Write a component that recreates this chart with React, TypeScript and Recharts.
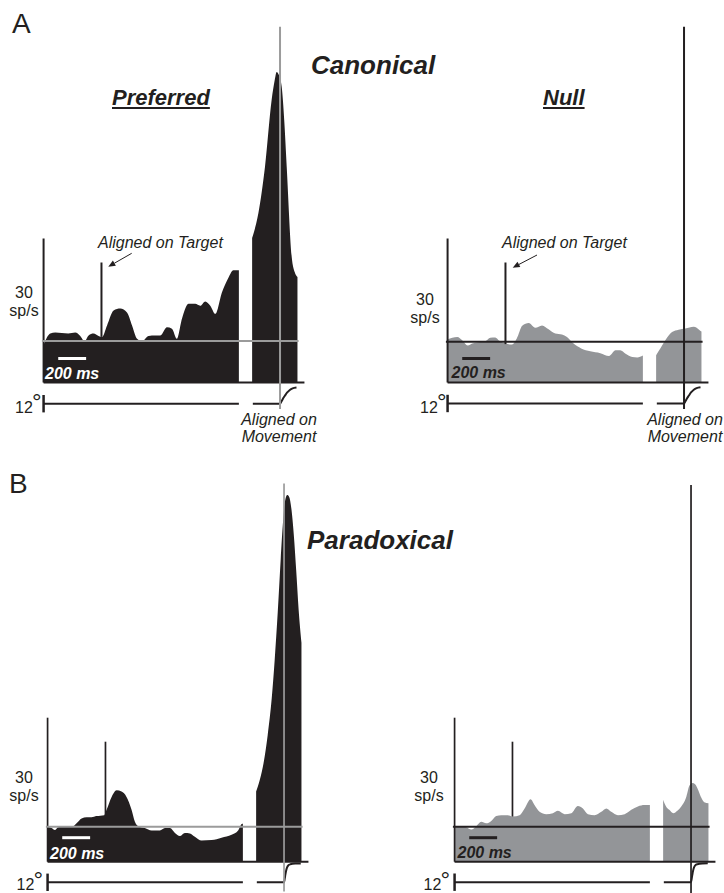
import React from "react";
import { ComposedChart, Area, Line, XAxis, YAxis, ReferenceLine } from "recharts";

// firing rate traces: [time (ms), rate (sp/s)]
// target-aligned: time from target onset; movement-aligned: time from movement onset
const aPrefTarget: [number, number][] = [
  [-415, 7.8], [-367, 10.2], [-331, 10.4], [-238, 10.2], [-188, 10.4], [-152, 9.7],
  [-121, 8.6], [-92, 9.8], [-57, 10.2], [-21, 9.7], [4, 9.5], [40, 11.9], [87, 15.0],
  [135, 15.4], [183, 14.6], [219, 11.9], [255, 9.1], [290, 8.6], [338, 9.7], [386, 9.8],
  [422, 9.8], [470, 11.5], [505, 11.2], [541, 9.1], [577, 13.3], [625, 16.4], [672, 16.4],
  [708, 16.0], [744, 16.9], [780, 16.0], [816, 14.3], [864, 18.8], [911, 21.9], [945, 23.4],
  [985, 23.4],
];
const aPrefMove: [number, number][] = [
  [-200, 30.1], [-155, 35.3], [-108, 44.9], [-60, 58.9], [-38, 63.0], [-24, 64.7],
  [-9, 64.1], [12, 61.6], [30, 54.7], [48, 44.9], [84, 26.1], [105, 23.0], [125, 22.0],
];
const aNullTarget: [number, number][] = [
  [-415, 9.0], [-381, 9.3], [-345, 9.5], [-310, 8.8], [-270, 7.7], [-238, 8.1], [-195, 8.4],
  [-145, 8.6], [-109, 9.3], [-73, 9.4], [-44, 8.7], [-1, 8.1], [47, 7.9], [82, 9.2],
  [120, 11.8], [167, 12.4], [214, 11.4], [262, 11.9], [309, 11.1], [357, 10.2], [405, 10.0],
  [441, 9.5], [488, 8.1], [543, 7.1], [608, 6.5], [680, 6.1], [742, 5.5], [789, 6.7],
  [823, 6.7], [861, 6.0], [909, 5.3], [945, 5.2], [985, 5.6],
];
const aNullMove: [number, number][] = [
  [-200, 5.7], [-170, 7.1], [-134, 8.8], [-86, 10.5], [-39, 11.0], [9, 11.25],
  [69, 11.6], [112, 10.9], [125, 10.6],
];
const bPrefTarget: [number, number][] = [
  [-415, 7.3], [-386, 7.0], [-363, 6.6], [-339, 7.2], [-291, 7.4], [-231, 7.4], [-207, 8.0],
  [-171, 9.0], [-135, 9.25], [-100, 9.25], [-64, 9.5], [-9, 9.7], [8, 10.8], [44, 13.5],
  [80, 14.9], [115, 14.6], [151, 13.5], [187, 10.8], [211, 8.3], [234, 7.4], [282, 7.0],
  [331, 6.5], [390, 6.5], [426, 7.0], [462, 7.0], [498, 6.0], [533, 5.35], [569, 6.0],
  [605, 5.9], [641, 5.2], [689, 4.4], [761, 4.5], [832, 5.0], [904, 5.6], [951, 6.5],
  [980, 7.9], [985, 7.9],
];
const bPrefMove: [number, number][] = [
  [-200, 14.6], [-174, 17.0], [-145, 20.8], [-117, 26.4], [-88, 34.1], [-67, 42.0],
  [-45, 52.0], [-24, 62.9], [-6, 71.2], [9, 75.4], [23, 76.4], [37, 76.0], [52, 73.7],
  [70, 68.1], [87, 60.8], [105, 52.4], [125, 45.6],
];
const bNullTarget: [number, number][] = [
  [-415, 7.3], [-367, 7.4], [-331, 7.2], [-295, 6.7], [-259, 7.4], [-224, 8.3], [-188, 8.0],
  [-152, 8.5], [-116, 9.5], [-80, 9.7], [-33, 9.7], [3, 9.4], [51, 9.7], [87, 11.1],
  [130, 13.0], [158, 11.8], [194, 10.4], [242, 9.9], [290, 10.1], [326, 10.6], [374, 9.9],
  [422, 10.1], [469, 11.6], [505, 11.1], [541, 9.9], [589, 9.7], [637, 10.4], [673, 11.1],
  [708, 10.4], [756, 9.7], [804, 9.9], [852, 10.8], [899, 11.5], [947, 11.8], [985, 11.8],
];
const bNullMove: [number, number][] = [
  [-200, 12.9], [-179, 11.5], [-156, 10.8], [-127, 10.1], [-98, 10.6], [-70, 11.5],
  [-36, 13.3], [-12, 15.8], [9, 16.4], [31, 16.1], [52, 14.9], [74, 13.3], [95, 12.4],
  [125, 12.2],
];

// eye position: [time (ms), deg]
const eyeTarget: [number, number][] = [[-415, 0], [985, 0]];
const eyeMoveA: [number, number][] = [
  [-195, 0], [-100, 0], [0, 0], [10, 1.5], [20, 3.3], [35, 5.5], [50, 7.6], [70, 9.5],
  [90, 10.6], [118, 11.2],
];
const eyeMoveB: [number, number][] = [
  [-195, 0], [-100, 0], [0, 0], [5, 2.5], [10, 5.5], [15, 8], [22, 10.3], [30, 11.6],
  [45, 12.4], [80, 12.9], [120, 13],
];

const INK = "#231f20";
const GREY_FILL = "#939598";
const GREY_LINE = "#9b9b9b";
const FONT = '"Liberation Sans", Arial, Helvetica, sans-serif';

// shared time axis: target window first, movement window shifted right after a gap
const T_START = -415;
const MOVE_SHIFT = 1280;
const X_MIN = -455;
const X_MAX = 1470;
const PX_PER_MS = 0.1395;
const PX_PER_RATE = 4.8;
const PX_PER_DEG = 1.45;

interface PanelProps {
  axisX: number;
  zeroY: number;
  top: number;
  bottom: number;
  eyeY: number;
  target: [number, number][];
  move: [number, number][];
  eyeMove: [number, number][];
  fill: string;
  refColor: string;
  barColor: string;
  baseline: number;
  markerBase: number;
  moveTop: number;
  moveBottom: number;
  lw: number;
}

function Panel(p: PanelProps) {
  const width = (X_MAX - X_MIN) * PX_PER_MS;
  const height = p.bottom - p.top;
  const rateDomain = [-(p.bottom - p.zeroY) / PX_PER_RATE, (p.zeroY - p.top) / PX_PER_RATE];
  const eyeDomain = [-(p.bottom - p.eyeY) / PX_PER_DEG, (p.eyeY - p.top) / PX_PER_DEG];
  const targetRows = p.target.map(([t, r]) => ({ x: t, r }));
  const moveRows = p.move.map(([t, r]) => ({ x: t + MOVE_SHIFT, r }));
  const eyeT = eyeTarget.map(([t, d]) => ({ x: t, d }));
  const eyeM = p.eyeMove.map(([t, d]) => ({ x: t + MOVE_SHIFT, d }));
  const moveEnd = MOVE_SHIFT + p.move[p.move.length - 1][0];

  return (
    <div style={{ position: "absolute", left: p.axisX - (T_START - X_MIN) * PX_PER_MS, top: p.top }}>
      <ComposedChart width={width} height={height} margin={{ top: 0, right: 0, bottom: 0, left: 0 }}>
        <XAxis type="number" dataKey="x" domain={[X_MIN, X_MAX]} allowDataOverflow hide />
        <YAxis yAxisId="rate" type="number" domain={rateDomain} allowDataOverflow hide />
        <YAxis yAxisId="eye" type="number" domain={eyeDomain} allowDataOverflow hide />
        <Area
          yAxisId="rate"
          data={targetRows}
          dataKey="r"
          type="monotone"
          fill={p.fill}
          fillOpacity={1}
          stroke="none"
          baseValue={0}
          isAnimationActive={false}
        />
        <Area
          yAxisId="rate"
          data={moveRows}
          dataKey="r"
          type="monotone"
          fill={p.fill}
          fillOpacity={1}
          stroke="none"
          baseValue={0}
          isAnimationActive={false}
        />
        <Line yAxisId="eye" data={eyeT} dataKey="d" type="linear" stroke={INK} strokeWidth={2} dot={false} isAnimationActive={false} />
        <Line yAxisId="eye" data={eyeM} dataKey="d" type="monotone" stroke={INK} strokeWidth={2} dot={false} isAnimationActive={false} />
        {/* axis under the traces */}
        <ReferenceLine yAxisId="rate" segment={[{ x: T_START, y: 0 }, { x: 1455, y: 0 }]} stroke={INK} strokeWidth={2} />
        {/* 30 sp/s scale bar */}
        <ReferenceLine yAxisId="rate" segment={[{ x: T_START, y: 0 }, { x: T_START, y: 30 }]} stroke={INK} strokeWidth={p.lw} />
        {/* pre-target baseline */}
        <ReferenceLine yAxisId="rate" segment={[{ x: T_START - 12, y: p.baseline }, { x: moveEnd + 8, y: p.baseline }]} stroke={p.refColor} strokeWidth={2} />
        {/* target onset marker */}
        <ReferenceLine yAxisId="rate" segment={[{ x: 0, y: p.markerBase }, { x: 0, y: 25 }]} stroke={INK} strokeWidth={p.lw} />
        {/* movement onset */}
        <ReferenceLine yAxisId="rate" segment={[{ x: MOVE_SHIFT, y: p.moveBottom }, { x: MOVE_SHIFT, y: p.moveTop }]} stroke={p.refColor} strokeWidth={p.lw} />
        {/* 200 ms bar */}
        <ReferenceLine yAxisId="rate" segment={[{ x: -310, y: 5 }, { x: -110, y: 5 }]} stroke={p.barColor} strokeWidth={3} />
        {/* 12 deg bar */}
        <ReferenceLine yAxisId="eye" segment={[{ x: T_START, y: -6 }, { x: T_START, y: 6 }]} stroke={INK} strokeWidth={2.5} />
      </ComposedChart>
    </div>
  );
}

function Txt({ x, y, size = 16, center = false, style, children }: {
  x: number; y: number; size?: number; center?: boolean; style?: React.CSSProperties; children: React.ReactNode;
}) {
  return (
    <div
      style={{
        position: "absolute",
        left: x,
        top: y,
        fontSize: size,
        lineHeight: 1,
        whiteSpace: "nowrap",
        transform: center ? "translateX(-50%)" : undefined,
        textAlign: center ? "center" : undefined,
        ...style,
      }}
    >
      {children}
    </div>
  );
}

function arrow(x1: number, y1: number, x2: number, y2: number) {
  const len = Math.hypot(x2 - x1, y2 - y1);
  const ux = (x2 - x1) / len;
  const uy = (y2 - y1) / len;
  const bx = x2 - ux * 7;
  const by = y2 - uy * 7;
  const pts = `${x2},${y2} ${bx - uy * 3},${by + ux * 3} ${bx + uy * 3},${by - ux * 3}`;
  return (
    <g key={`${x1}-${y1}`}>
      <line x1={x1} y1={y1} x2={bx} y2={by} stroke={INK} strokeWidth={1} />
      <polygon points={pts} fill={INK} />
    </g>
  );
}

const boldItal: React.CSSProperties = { fontWeight: "bold", fontStyle: "italic" };
const ital: React.CSSProperties = { fontStyle: "italic" };

function ScaleLabels({ x30, y30, x12, y12 }: { x30: number; y30: number; x12: number; y12: number }) {
  return (
    <>
      <Txt x={x30} y={y30} center style={{ lineHeight: "18px" }}>
        30
        <br />
        sp/s
      </Txt>
      <Txt x={x12} y={y12}>
        12
        <span style={{ position: "absolute", left: 17, top: -9.5, fontSize: 24, lineHeight: 1 }}>°</span>
      </Txt>
    </>
  );
}

export default function App() {
  return (
    <div style={{ position: "absolute", left: 0, top: 0, width: 724, height: 893, background: "#fff", fontFamily: FONT, color: INK, overflow: "hidden" }}>
      <Panel axisX={43.3} zeroY={382.5} top={20} bottom={420} eyeY={403.7} target={aPrefTarget} move={aPrefMove} eyeMove={eyeMoveA}
        fill={INK} refColor={GREY_LINE} barColor="#fff" baseline={8.65} markerBase={9.5} moveTop={74.1} moveBottom={-5.5} lw={2} />
      <Panel axisX={447.3} zeroY={382.5} top={20} bottom={420} eyeY={403.5} target={aNullTarget} move={aNullMove} eyeMove={eyeMoveA}
        fill={GREY_FILL} refColor={INK} barColor={INK} baseline={8.5} markerBase={8.0} moveTop={74.1} moveBottom={-5.5} lw={2} />
      <Panel axisX={47.7} zeroY={861.7} top={478} bottom={893} eyeY={882.3} target={bPrefTarget} move={bPrefMove} eyeMove={eyeMoveB}
        fill={INK} refColor={GREY_LINE} barColor="#fff" baseline={7.3} markerBase={9.7} moveTop={78.8} moveBottom={-6.2} lw={1.7} />
      <Panel axisX={455} zeroY={861.7} top={478} bottom={893} eyeY={882.2} target={bNullTarget} move={bNullMove} eyeMove={eyeMoveB}
        fill={GREY_FILL} refColor={INK} barColor={INK} baseline={7.3} markerBase={9.4} moveTop={78.5} moveBottom={-6.5} lw={1.7} />

      <Txt x={12} y={9.5} size={28}>A</Txt>
      <Txt x={9} y={469.5} size={28}>B</Txt>
      <Txt x={311} y={51.5} size={26} style={boldItal}>Canonical</Txt>
      <Txt x={307} y={526.5} size={26} style={boldItal}>Paradoxical</Txt>
      <Txt x={112} y={87} size={22} style={{ ...boldItal, textDecoration: "underline" }}>Preferred</Txt>
      <Txt x={543} y={87} size={22} style={{ ...boldItal, textDecoration: "underline" }}>Null</Txt>

      <Txt x={98} y={235} style={ital}>Aligned on Target</Txt>
      <Txt x={502} y={235} style={ital}>Aligned on Target</Txt>
      <Txt x={279} y={411} center style={{ ...ital, lineHeight: "17px" }}>
        Aligned on
        <br />
        Movement
      </Txt>
      <Txt x={685} y={411} center style={{ ...ital, lineHeight: "17px" }}>
        Aligned on
        <br />
        Movement
      </Txt>

      <Txt x={45} y={365.5} style={{ ...boldItal, color: "#fff" }}>200 ms</Txt>
      <Txt x={451.5} y={365} style={boldItal}>200 ms</Txt>
      <Txt x={50} y={846} style={{ ...boldItal, color: "#fff" }}>200 ms</Txt>
      <Txt x={457.5} y={844.5} style={boldItal}>200 ms</Txt>

      <ScaleLabels x30={24} y30={284} x12={15} y12={399.5} />
      <ScaleLabels x30={425} y30={290.5} x12={420} y12={399.5} />
      <ScaleLabels x30={24} y30={769} x12={16.5} y12={877} />
      <ScaleLabels x30={429} y30={769} x12={423.5} y12={877} />

      <svg width={724} height={893} style={{ position: "absolute", left: 0, top: 0, pointerEvents: "none" }}>
        {arrow(131.7, 253.3, 108.3, 266.7)}
        {arrow(537, 255, 512.7, 267.7)}
      </svg>
    </div>
  );
}
